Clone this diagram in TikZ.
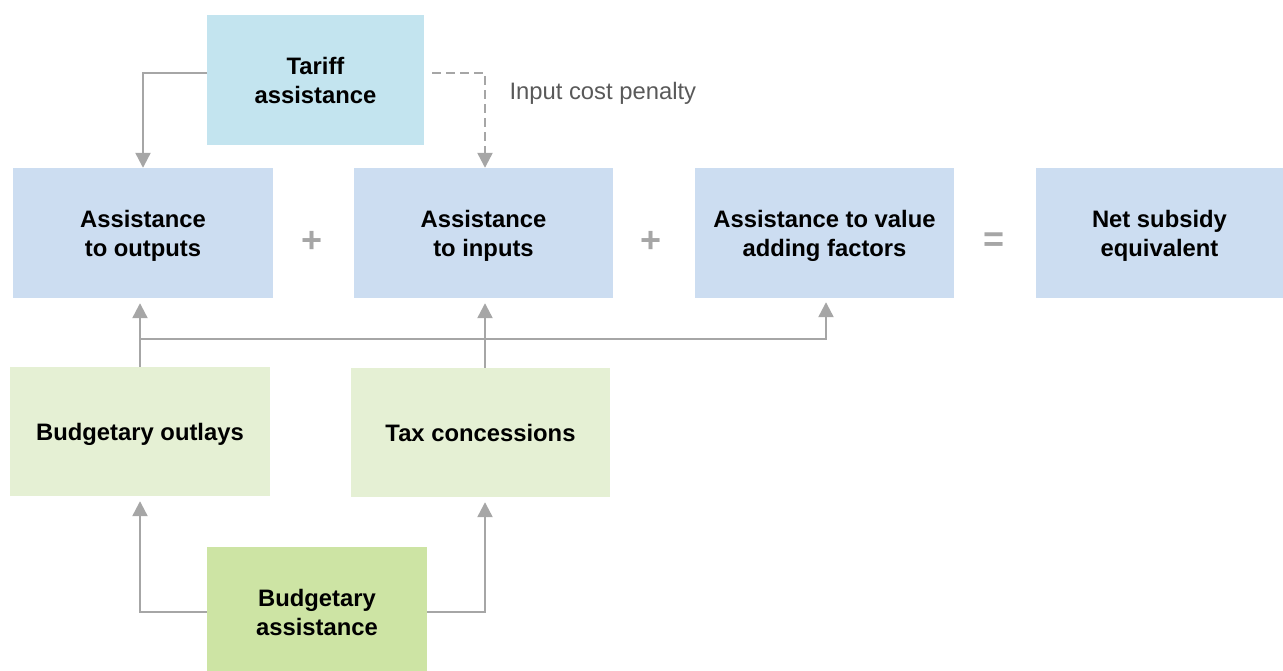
\documentclass[tikz,border=0pt]{standalone}
\usepackage{tikz}
\usepackage{fontspec}
\setmainfont{Liberation Sans}
\usetikzlibrary{arrows.meta}
\definecolor{tariffblue}{HTML}{C3E4EF}
\definecolor{assistblue}{HTML}{CCDDF1}
\definecolor{budgetpale}{HTML}{E5F0D4}
\definecolor{budgetgreen}{HTML}{CDE4A4}
\definecolor{linegray}{HTML}{A6A6A6}
\definecolor{labelgray}{HTML}{595959}

\begin{document}
\begin{tikzpicture} [x = 1pt, y = -1pt,
  box/.style = {inner sep = 0pt, align = center, text depth = 0pt, font = \fontsize{23.8}{29}\selectfont\bfseries},
  conn/.style = {draw = linegray, line width = 2.3pt, -{Triangle[length = 15pt, width = 15pt]}},
  sign/.style = {text = linegray, font = \fontsize{36}{40}\selectfont\bfseries}]
\useasboundingbox (0, 0) rectangle (1283, 671);
\node[box, fill = tariffblue, minimum width = 217, minimum height = 130] (tariff) at (315.5, 80) {Tariff\\assistance};
\node[box, fill = assistblue, minimum width = 260, minimum height = 130] (out) at (143, 233) {Assistance\\to outputs};
\node[box, fill = assistblue, minimum width = 259, minimum height = 130] (inp) at (483.5, 233) {Assistance\\to inputs};
\node[box, fill = assistblue, minimum width = 259, minimum height = 130] (vaf) at (824.5, 233) {Assistance to value\\adding factors};
\node[box, fill = assistblue, minimum width = 247, minimum height = 130] (nse) at (1159.5, 233) {Net subsidy\\equivalent};
\node[box, fill = budgetpale, minimum width = 260, minimum height = 129] (outlays) at (140, 431.5) {Budgetary outlays};
\node[box, fill = budgetpale, minimum width = 259, minimum height = 129] (tax) at (480.5, 432.5) {Tax concessions};
\node[box, fill = budgetgreen, minimum width = 220, minimum height = 130] (budget) at (317, 612) {Budgetary\\assistance};
\node[sign] (plusa) at (312.5, 242) {+};
\node[sign] (plusb) at (651.5, 242) {+};
\node[sign] (equals) at (994, 242) {=};
\node[anchor = west, text = labelgray, font = \fontsize{23.8}{29}\selectfont] (penalty) at (506, 93) {Input cost penalty};
\coordinate (bus) at (0, 339);
% tariff to the first row
\draw[conn] ([yshift = 7pt]tariff.west) -| (out.north);
\draw[conn, dashed, dash pattern = on 9pt off 5pt] ([xshift = 8pt, yshift = 7pt]tariff.east) -| ([xshift = 1.5pt]inp.north);
% budget boxes up to the first row
\draw[conn, shorten > = 5pt] (outlays.north) -- (outlays.north |- out.south);
\draw[conn, shorten > = 5pt] ([xshift = 4.5pt]tax.north) -- ([xshift = 4.5pt]tax.north |- inp.south);
\draw[conn, shorten > = 4pt] (outlays.north |- bus) -| ([xshift = 1.5pt]vaf.south);
% budgetary assistance
\draw[conn, shorten > = 5pt] (budget.west) -| (outlays.south);
\draw[conn, shorten > = 5pt] (budget.east) -| ([xshift = 4.5pt]tax.south);
\end{tikzpicture}
\end{document}
